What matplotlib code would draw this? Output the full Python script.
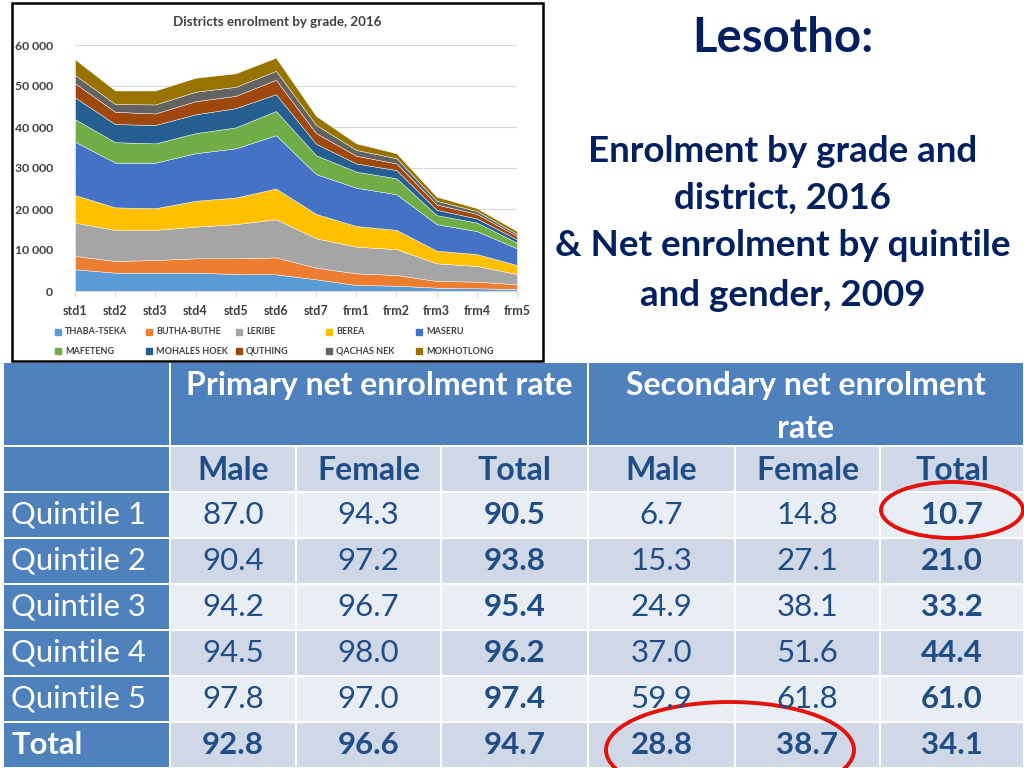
import numpy as np
import matplotlib.pyplot as plt
from matplotlib.patches import Rectangle, Ellipse

plt.rcParams['font.family'] = ['Lato', 'DejaVu Sans']

# --- stacked area data (enrolment by grade and district, 2016) ---
grades = ["std1", "std2", "std3", "std4", "std5", "std6", "std7",
          "frm1", "frm2", "frm3", "frm4", "frm5"]
districts = ["THABA-TSEKA", "BUTHA-BUTHE", "LERIBE", "BEREA", "MASERU",
             "MAFETENG", "MOHALES HOEK", "QUTHING", "QACHAS NEK", "MOKHOTLONG"]
thaba_tseka = [5300, 4470, 4470, 4470, 4150, 4070, 2850, 1460, 1300, 810, 650, 490]
butha_buthe = [3240, 2850, 3090, 3500, 3820, 4130, 2840, 2840, 2600, 1630, 1630, 1140]
leribe = [8130, 7580, 7340, 7730, 8330, 9300, 7160, 6500, 6300, 4310, 3820, 2520]
berea = [6730, 5500, 5300, 6300, 6500, 7500, 5950, 5050, 4700, 3090, 2900, 2190]
maseru = [13000, 10900, 11100, 11600, 12000, 13000, 9700, 9350, 8700, 6460, 5600, 4060]
mafeteng = [5500, 5000, 4700, 4900, 5100, 5900, 4600, 3900, 3900, 2200, 2100, 1400]
mohales_hoek = [5300, 4400, 4500, 4600, 4700, 4100, 2800, 2000, 2000, 1300, 1000, 800]
quthing = [3450, 3000, 2800, 3200, 3000, 3500, 2600, 1900, 1600, 1300, 1100, 800]
qachas_nek = [2050, 1900, 2200, 2300, 2200, 2200, 2000, 1400, 1300, 900, 700, 500]
mokhotlong = [3800, 3300, 3400, 3400, 3300, 3200, 2200, 1600, 1200, 1000, 700, 700]
district_values = [thaba_tseka, butha_buthe, leribe, berea, maseru,
                   mafeteng, mohales_hoek, quthing, qachas_nek, mokhotlong]
district_colors = ["#5B9BD5", "#ED7D31", "#A5A5A5", "#FFC000", "#4472C4",
                   "#70AD47", "#255E91", "#9E480E", "#636363", "#997300"]

# --- net enrolment table (2009) ---
row_labels = ["Quintile 1", "Quintile 2", "Quintile 3", "Quintile 4", "Quintile 5", "Total"]
primary_male = [87.0, 90.4, 94.2, 94.5, 97.8, 92.8]
primary_female = [94.3, 97.2, 96.7, 98.0, 97.0, 96.6]
primary_total = [90.5, 93.8, 95.4, 96.2, 97.4, 94.7]
secondary_male = [6.7, 15.3, 24.9, 37.0, 59.9, 28.8]
secondary_female = [14.8, 27.1, 38.1, 51.6, 61.8, 38.7]
secondary_total = [10.7, 21.0, 33.2, 44.4, 61.0, 34.1]

W, H = 1024, 768
fig = plt.figure(figsize=(W / 100, H / 100), dpi=100)
fig.patch.set_facecolor("white")

# overlay axes in pixel coords for the slide elements
ov = fig.add_axes([0, 0, 1, 1], zorder=0)
ov.set_xlim(0, W)
ov.set_ylim(H, 0)
ov.axis("off")

navy = "#002060"
blue = "#4F81BD"
cell_light = "#E9EDF4"
cell_dark = "#D0D8E8"
txt_blue = "#1F4E87"

# chart frame
ov.add_patch(Rectangle((12, 3), 531, 358, fill=False, ec="black", lw=1.8))
ov.text(277, 22, "Districts enrolment by grade, 2016", ha="center", va="center",
        fontsize=9.6, color="#404040", fontweight="bold")

# stacked area chart
ax = fig.add_axes([75 / W, 1 - 291 / H, (517 - 75) / W, (291 - 45) / H], zorder=1)
ax.patch.set_alpha(0)
x = np.arange(len(grades))
ax.stackplot(x, district_values, colors=district_colors, labels=districts, lw=0.3, edgecolor="white")
ax.set_xlim(0, len(grades) - 1)
ax.set_ylim(0, 60000)
ax.set_yticks(range(0, 60001, 10000))
ax.set_yticklabels(["0" if v == 0 else f"{v // 1000} 000" for v in range(0, 60001, 10000)],
                   fontsize=8.8, color="#404040", fontweight="bold")
ax.set_xticks(x)
ax.set_xticklabels(grades, fontsize=9, color="#404040", fontweight="bold")
ax.grid(axis="y", color="#D9D9D9", lw=0.8)
ax.set_axisbelow(True)
for s in ["top", "right", "left"]:
    ax.spines[s].set_visible(False)
ax.spines["bottom"].set_color("#D9D9D9")
ax.tick_params(axis="y", length=0, pad=16)
ax.tick_params(axis="x", length=4, color="#D9D9D9", pad=6)

# legend (two rows of five)
leg_x = [58, 149, 239, 329, 419]
leg_y = [332, 351]
for i, (name, col) in enumerate(zip(districts, district_colors)):
    lx = leg_x[i % 5]
    ly = leg_y[i // 5]
    ov.add_patch(Rectangle((lx - 3, ly - 3.5), 6, 6, color=col))
    ov.text(lx + 7, ly, name, ha="left", va="center", fontsize=6.5, color="#404040",
            fontweight="bold")

# right-hand titles
ov.text(783, 38, "Lesotho:", ha="center", va="center", fontsize=34, color=navy,
        fontweight="bold")
for yy, line in zip([152, 198, 246, 295],
                    ["Enrolment by grade and", "district, 2016",
                     "& Net enrolment by quintile", "and gender, 2009"]):
    ov.text(783, yy, line, ha="center", va="center", fontsize=26.5, color=navy,
            fontweight="bold")

# table
col_edges = [3, 170, 296, 441, 588, 735, 880, 1024]
row_edges = [492, 538, 584, 630, 676, 722, 768]
gap = 1.5

def cell(x0, x1, y0, y1, color):
    ov.add_patch(Rectangle((x0 + gap / 2, y0 + gap / 2), x1 - x0 - gap, y1 - y0 - gap,
                           color=color, lw=0))

# header rows
cell(3, 170, 362, 446, blue)
cell(170, 588, 362, 446, blue)
cell(588, 1024, 362, 446, blue)
ov.text(379, 386, "Primary net enrolment rate", ha="center", va="center",
        fontsize=23, color="white", fontweight="bold")
ov.text(806, 386, "Secondary net enrolment", ha="center", va="center",
        fontsize=23, color="white", fontweight="bold")
ov.text(806, 429, "rate", ha="center", va="center", fontsize=23, color="white",
        fontweight="bold")

cell(3, 170, 446, 492, blue)
sub_heads = ["Male", "Female", "Total", "Male", "Female", "Total"]
for j, hd in enumerate(sub_heads):
    cell(col_edges[j + 1], col_edges[j + 2], 446, 492, cell_dark)
    ov.text((col_edges[j + 1] + col_edges[j + 2]) / 2, 470, hd, ha="center", va="center",
            fontsize=23, color=txt_blue, fontweight="bold")

columns = [primary_male, primary_female, primary_total,
           secondary_male, secondary_female, secondary_total]
for i, lab in enumerate(row_labels):
    y0, y1 = row_edges[i], row_edges[i + 1]
    yc = (y0 + y1) / 2
    is_total = lab == "Total"
    cell(3, 170, y0, y1, blue)
    ov.text(11, yc, lab, ha="left", va="center", fontsize=22.3, color="white",
            fontweight="bold" if is_total else "normal")
    bg = cell_light if i % 2 == 0 else cell_dark
    for j, colv in enumerate(columns):
        cell(col_edges[j + 1], col_edges[j + 2], y0, y1, bg)
        bold = is_total or j in (2, 5)
        ov.text((col_edges[j + 1] + col_edges[j + 2]) / 2, yc, f"{colv[i]:.1f}",
                ha="center", va="center", fontsize=22.5, color=txt_blue,
                fontweight="bold" if bold else "normal")

# red highlight ellipses
ov.add_patch(Ellipse((952, 510), 142, 56, fill=False, ec="#E3120B", lw=2.8))
ov.add_patch(Ellipse((730, 750), 248, 96, fill=False, ec="#E3120B", lw=2.8))

fig.savefig("out.png", dpi=100)
